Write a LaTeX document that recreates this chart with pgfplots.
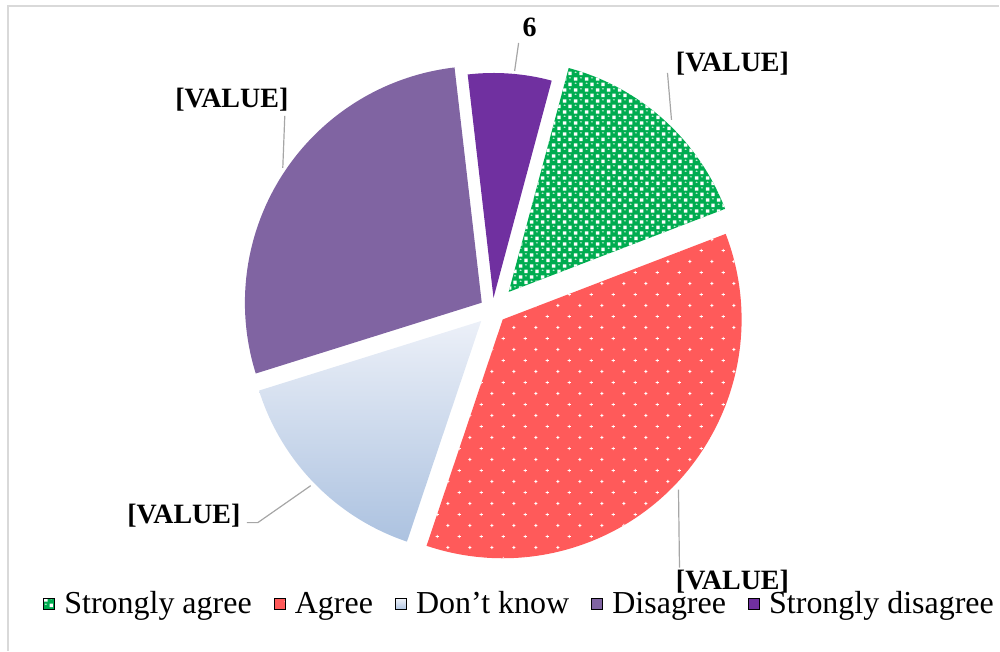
\documentclass[border=0pt]{standalone}
\usepackage{fontspec}
\setmainfont{Liberation Serif}
\usepackage{pgfplots}
\pgfplotsset{compat=1.18}
\usepackage{pgfplotstable}
\usetikzlibrary{patterns}

\definecolor{sagreeC}{RGB}{0,172,80}
\definecolor{agreeC}{RGB}{255,90,90}
\definecolor{dkTop}{RGB}{236,240,248}
\definecolor{dkBot}{RGB}{172,194,224}
\definecolor{disC}{RGB}{128,100,162}
\definecolor{sdisC}{RGB}{112,48,160}
\definecolor{borderC}{RGB}{217,217,217}
\definecolor{leadC}{RGB}{166,166,166}

\pgfdeclarepatternformonly{spheresW}{\pgfpointorigin}{\pgfqpoint{5.4pt}{5.4pt}}{\pgfqpoint{5.4pt}{5.4pt}}{%
  \pgfpathrectangle{\pgfqpoint{3.2pt}{0.5pt}}{\pgfqpoint{1.7pt}{1.7pt}}%
  \pgfpathrectangle{\pgfqpoint{0.5pt}{3.2pt}}{\pgfqpoint{1.7pt}{1.7pt}}%
  \pgfpathellipse{\pgfqpoint{1.35pt}{1.95pt}}{\pgfqpoint{0.6pt}{0pt}}{\pgfqpoint{0pt}{0.3pt}}%
  \pgfpathellipse{\pgfqpoint{4.05pt}{4.65pt}}{\pgfqpoint{0.6pt}{0pt}}{\pgfqpoint{0pt}{0.3pt}}%
  \pgfusepath{fill}%
}
\pgfdeclarepatternformonly{sparkleW}{\pgfpointorigin}{\pgfqpoint{10.8pt}{11pt}}{\pgfqpoint{10.8pt}{11pt}}{%
  \pgfpathrectangle{\pgfqpoint{1.9pt}{2.55pt}}{\pgfqpoint{1.6pt}{0.45pt}}%
  \pgfpathrectangle{\pgfqpoint{2.48pt}{1.97pt}}{\pgfqpoint{0.45pt}{1.6pt}}%
  \pgfpathrectangle{\pgfqpoint{7.3pt}{8.05pt}}{\pgfqpoint{1.6pt}{0.45pt}}%
  \pgfpathrectangle{\pgfqpoint{7.88pt}{7.47pt}}{\pgfqpoint{0.45pt}{1.6pt}}%
  \pgfusepath{fill}%
}

\tikzset{
  slice0/.style={fill=sagreeC, postaction={pattern=spheresW, pattern color=white}},
  slice1/.style={fill=agreeC, postaction={pattern=sparkleW, pattern color=white}},
  slice2/.style={top color=dkTop, bottom color=dkBot},
  slice3/.style={fill=disC},
  slice4/.style={fill=sdisC},
  lbl/.style={font=\fontsize{14}{16}\selectfont\bfseries, inner sep=0pt},
  lead/.style={draw=leadC, line width=0.6pt},
}

% value (percent), explosion (px), radius (px)
\pgfplotstableread{
value explode radius
15 24 232
36 14 239
15 16 233
28 13 237
6  12 225
}\piedata

\begin{document}
\begin{tikzpicture}
\begin{axis}[
  x=0.5pt, y=0.5pt, xmin=0, xmax=1000, ymin=0, ymax=651, y dir=reverse,
  hide axis, clip=false,
  legend columns=5,
  legend style={draw=none, fill=none, at={(0.043,0.071)}, anchor=west,
    inner sep=0pt, font=\fontsize{16}{19}\selectfont,
    nodes={inner sep=0pt},
    /tikz/every odd column/.append style={column sep=4.6pt},
    /tikz/every even column/.append style={column sep=11.1pt}},
]
\path (axis cs:0,0) rectangle (axis cs:1000,651);
\draw[borderC, line width=0.75pt] (axis cs:8,651) -- (axis cs:8,6) -- (axis cs:1000,6);

\pgfplotsextra{
  \pgfplotstablegetrowsof{\piedata}\pgfmathtruncatemacro\nrows{\pgfplotsretval-1}
  \xdef\cum{15}
  \foreach \i in {0,...,\nrows}{
    \pgfplotstablegetelem{\i}{value}\of\piedata\let\v\pgfplotsretval
    \pgfplotstablegetelem{\i}{explode}\of\piedata\let\ex\pgfplotsretval
    \pgfplotstablegetelem{\i}{radius}\of\piedata\let\rr\pgfplotsretval
    \pgfmathsetmacro\aS{\cum}
    \pgfmathsetmacro\aE{\cum+3.6*\v}
    \pgfmathsetmacro\aM{(\aS+\aE)/2}
    \pgfmathsetmacro\tx{493+\ex*sin(\aM)}
    \pgfmathsetmacro\ty{310-\ex*cos(\aM)}
    \pgfmathsetmacro\px{\tx+\rr*sin(\aS)}
    \pgfmathsetmacro\py{\ty-\rr*cos(\aS)}
    \pgfmathsetmacro\rpt{\rr*0.5}
    \pgfmathsetmacro\cs{90-\aS}
    \pgfmathsetmacro\ce{90-\aE}
    \path[slice\i] (axis cs:\tx,\ty) -- (axis cs:\px,\py) arc[start angle=\cs, end angle=\ce, radius=\rpt pt] -- cycle;
    \xdef\cum{\aE}
  }
}

% leader lines
\draw[lead] (axis cs:668,73) -- (axis cs:672,120);
\draw[lead] (axis cs:519,43) -- (axis cs:515,71);
\draw[lead] (axis cs:285,116) -- (axis cs:283,168);
\draw[lead] (axis cs:247,523) -- (axis cs:258,523) -- (axis cs:311,486);
\draw[lead] (axis cs:679,490) -- (axis cs:680,568);

% data labels
\node[lbl] at (axis cs:733,64) {[VALUE]};
\node[lbl] at (axis cs:530,27) {6};
\node[lbl] at (axis cs:232,100) {[VALUE]};
\node[lbl] at (axis cs:184,516) {[VALUE]};
\node[lbl] at (axis cs:733,582) {[VALUE]};

\addlegendimage{legend image code/.code={\path[slice0] (0pt,-2.75pt) rectangle (5.5pt,2.75pt);}}
\addlegendimage{legend image code/.code={\path[slice1] (0pt,-2.75pt) rectangle (5.5pt,2.75pt);}}
\addlegendimage{legend image code/.code={\path[slice2] (0pt,-2.75pt) rectangle (5.5pt,2.75pt);}}
\addlegendimage{legend image code/.code={\path[slice3] (0pt,-2.75pt) rectangle (5.5pt,2.75pt);}}
\addlegendimage{legend image code/.code={\path[slice4] (0pt,-2.75pt) rectangle (5.5pt,2.75pt);}}
\legend{Strongly agree, Agree, Don’t know, Disagree, Strongly disagree}
\end{axis}
\end{tikzpicture}
\end{document}
